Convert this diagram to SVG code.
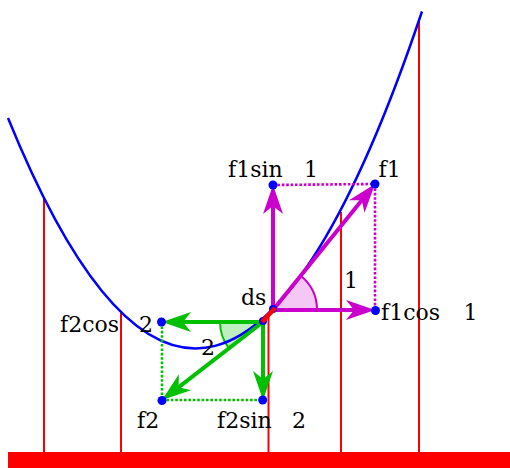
<svg xmlns="http://www.w3.org/2000/svg" width="510" height="468" viewBox="0 0 510 468">
<style>
.lbl{font-family:'DejaVu Serif','Liberation Serif',serif;font-size:22px;fill:#000}
.rl{stroke:#ff0000;stroke-width:2;fill:none}
.mag{stroke:#cc00cc;stroke-width:4;fill:none}
.grn{stroke:#00c000;stroke-width:4;fill:none}
.mdot{stroke:#cc00cc;stroke-width:2.6;stroke-dasharray:2.6 1.8;fill:none}
.gdot{stroke:#00c000;stroke-width:2.6;stroke-dasharray:2.6 1.8;fill:none}
.pt{fill:#0000ff}
</style>
<defs>
<path id="ah" d="M0,0 L-29,-10 L-21,0 L-29,10 Z"/>
</defs>
<g id="ground">
<rect x="8" y="452" width="502" height="16" fill="#ff0000"/>
<line class="rl" x1="44" y1="197" x2="44" y2="452"/>
<line class="rl" x1="121" y1="313" x2="121" y2="452"/>
<line class="rl" x1="268.5" y1="315" x2="268.5" y2="452"/>
<line class="rl" x1="341" y1="212" x2="341" y2="452"/>
<line class="rl" x1="419" y1="22" x2="419" y2="452"/>
</g>
<g id="sectors">
<path d="M273,310 L317,310 A44,44 0 0 0 300.7,275.8 Z" fill="#cc00cc" fill-opacity="0.22" stroke="#cc00cc" stroke-width="2"/>
<path d="M263,322 L220,322 A43,43 0 0 0 229,348.3 Z" fill="#00c000" fill-opacity="0.25" stroke="#00c000" stroke-width="2"/>
</g>
<g id="curve">
<path d="M8,118 Q215,627 422,11.5" fill="none" stroke="#0000ff" stroke-width="2.5"/>
</g>
<g id="connectors">
<line class="mdot" x1="273" y1="185" x2="375" y2="184"/>
<line class="mdot" x1="375" y1="184" x2="375" y2="310"/>
<line class="gdot" x1="162" y1="322" x2="162" y2="400"/>
<line class="gdot" x1="162" y1="400" x2="263" y2="400"/>
<line class="mag" x1="273" y1="310" x2="273" y2="205"/>
<use href="#ah" fill="#cc00cc" transform="translate(273,185) rotate(-90)"/>
<line class="mag" x1="273" y1="310" x2="355" y2="310"/>
<use href="#ah" fill="#cc00cc" transform="translate(375,310)"/>
<line class="mag" x1="273" y1="310" x2="362.4" y2="199.5"/>
<use href="#ah" fill="#cc00cc" transform="translate(375,184) rotate(-51)"/>
<line class="grn" x1="263" y1="322" x2="182" y2="322"/>
<use href="#ah" fill="#00c000" transform="translate(162,322) rotate(180)"/>
<line class="grn" x1="263" y1="322" x2="263" y2="380"/>
<use href="#ah" fill="#00c000" transform="translate(263,400) rotate(90)"/>
<line class="grn" x1="263" y1="322" x2="177.8" y2="387.8"/>
<use href="#ah" fill="#00c000" transform="translate(162,400) rotate(142.3)"/>
</g>
<g id="ds">
<circle class="pt" cx="273" cy="309" r="4"/>
<circle class="pt" cx="263" cy="321" r="4"/>
<line x1="262" y1="322" x2="275" y2="308" stroke="#ff0000" stroke-width="4.5"/>
<text class="lbl" x="241" y="305">ds</text>
</g>
<g id="f1sin">
<circle class="pt" cx="273" cy="185" r="4.5"/>
<text class="lbl" x="228" y="177">f1sin</text>
<text class="lbl" x="304" y="177">1</text>
</g>
<g id="f1">
<circle class="pt" cx="375" cy="184" r="4.5"/>
<text class="lbl" x="378.5" y="177">f1</text>
</g>
<g id="f1cos">
<circle class="pt" cx="375.5" cy="310.5" r="4.5"/>
<text class="lbl" x="381" y="320">f1cos</text>
<text class="lbl" x="463.5" y="320">1</text>
</g>
<g id="theta1">
<text class="lbl" x="344" y="288">1</text>
</g>
<g id="f2cos">
<circle class="pt" cx="161.5" cy="322" r="4.5"/>
<text class="lbl" x="60" y="331.5">f2cos</text>
<text class="lbl" x="139" y="331.5">2</text>
</g>
<g id="theta2">
<text class="lbl" x="201" y="355">2</text>
</g>
<g id="f2">
<circle class="pt" cx="162" cy="400.5" r="4.5"/>
<text class="lbl" x="137" y="428">f2</text>
</g>
<g id="f2sin">
<circle class="pt" cx="262.7" cy="400" r="4.5"/>
<text class="lbl" x="217" y="428">f2sin</text>
<text class="lbl" x="292" y="428">2</text>
</g>
</svg>
